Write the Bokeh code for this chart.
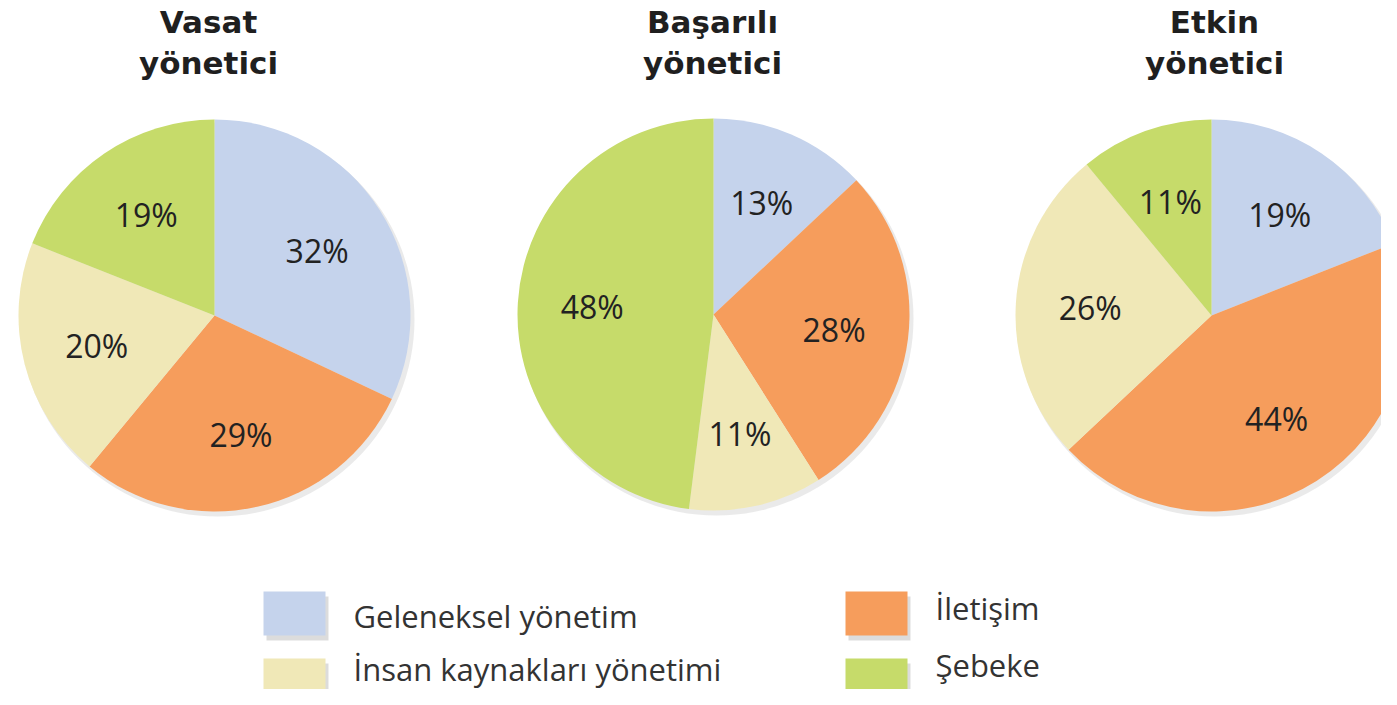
import math
from bokeh.plotting import figure
from bokeh.models import Range1d, ColumnDataSource
from bokeh.core.properties import value
from bokeh.embed import file_html
from bokeh.resources import INLINE

# ---- data ----
categories = ["Geleneksel yönetim", "İletişim", "İnsan kaynakları yönetimi", "Şebeke"]
colors = ["#C5D3EC", "#F69D5C", "#F0E8B7", "#C6DB6A"]
titles_top = ["Vasat", "Başarılı", "Etkin"]
titles_bottom = ["yönetici", "yönetici", "yönetici"]
vasat = [32, 29, 20, 19]
basarili = [13, 28, 11, 48]
etkin = [19, 44, 26, 11]
series = [vasat, basarili, etkin]

# ---- layout (picture pixels; data y = 705 - picture y) ----
W, H = 1381, 689
p = figure(width=W, height=H, output_backend="svg", toolbar_location=None,
           x_range=Range1d(0, W), y_range=Range1d(705 - H, 705),
           min_border=0)
p.axis.visible = False
p.grid.visible = False
p.outline_line_color = None
p.background_fill_color = "white"
p.border_fill_color = "white"

def sy(y):
    return 705 - y

centers = [(214, 315), (713, 314), (1211, 315)]
title_x = [208, 712, 1214]
R = 196
label_font = value("Open Sans")
title_font = value("DejaVu Sans")

for (cx, cy), tx, vals, t1, t2 in zip(centers, title_x, series, titles_top, titles_bottom):
    total = float(sum(vals))
    starts, ends, lx, ly, labels = [], [], [], [], []
    cum = 0.0
    for v in vals:
        a0 = cum / total
        a1 = (cum + v) / total
        # clockwise from 12 o'clock
        starts.append(math.pi / 2 - 2 * math.pi * a1)
        ends.append(math.pi / 2 - 2 * math.pi * a0)
        mid = math.pi / 2 - 2 * math.pi * (a0 + a1) / 2
        lx.append(cx + 0.62 * R * math.cos(mid))
        ly.append(sy(cy) + 0.62 * R * math.sin(mid))
        labels.append(f"{v}%")
        cum += v
    # soft shadow
    p.circle(x=[cx + 3], y=[sy(cy) - 4], radius=R + 1, fill_color="#dcdcdc",
             fill_alpha=0.6, line_color=None)
    src = ColumnDataSource(dict(x=[cx] * len(vals), y=[sy(cy)] * len(vals),
                                start=starts, end=ends, color=colors,
                                lx=lx, ly=ly, label=labels))
    p.wedge(x="x", y="y", radius=R, start_angle="start", end_angle="end",
            fill_color="color", line_color=None, source=src)
    p.text(x="lx", y="ly", text="label", source=src, text_align="center",
           text_baseline="middle", text_font=label_font, text_font_size="32px",
           text_color="#222222")
    p.text(x=[tx], y=[sy(21)], text=[t1], text_align="center",
           text_baseline="middle", text_font=title_font,
           text_font_style="bold", text_font_size="31px", text_color="#1f1f1f")
    p.text(x=[tx], y=[sy(62)], text=[t2], text_align="center",
           text_baseline="middle", text_font=title_font,
           text_font_style="bold", text_font_size="31px", text_color="#1f1f1f")

# ---- legend (2 x 2) ----
box_x = [263, 845, 263, 845]
box_top = [591, 591, 658, 658]
txt_mid = [615, 607, 668, 664]
bw, bh = 62, 44
for slot, ci in enumerate([0, 1, 2, 3]):
    x0 = box_x[slot]
    y0 = box_top[slot]
    p.quad(left=[x0 + 3], right=[x0 + bw + 3], top=[sy(y0 + 5)], bottom=[sy(y0 + bh + 5)],
           fill_color="#9a9a9a", fill_alpha=0.35, line_color=None)
    p.quad(left=[x0], right=[x0 + bw], top=[sy(y0)], bottom=[sy(y0 + bh)],
           fill_color=colors[ci], line_color=None)
    p.text(x=[x0 + bw + 28], y=[sy(txt_mid[slot])], text=[categories[ci]],
           text_align="left", text_baseline="middle", text_font=label_font,
           text_font_size="31px", text_color="#333333")

open("out.html", "w").write(file_html(p, INLINE))
